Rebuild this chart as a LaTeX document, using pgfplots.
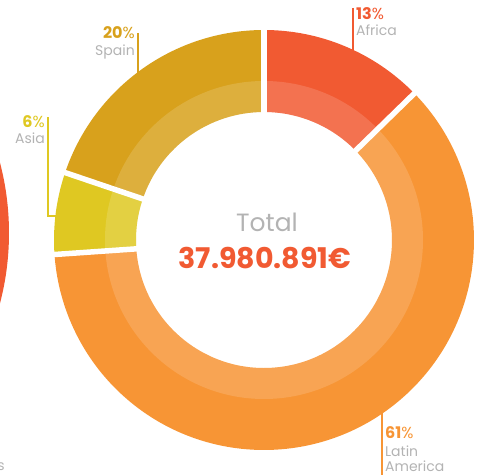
\documentclass[border=0pt]{standalone}
\usepackage{pgfplots}
\pgfplotsset{compat=1.18}
\usepackage{pgfplotstable}
\usepackage{fontspec}
\setmainfont{Poppins}
\definecolor{cafr}{HTML}{F15A32}
\definecolor{clat}{HTML}{F79535}
\definecolor{casi}{HTML}{DFC822}
\definecolor{cspa}{HTML}{D8A11C}
\definecolor{lbl}{HTML}{B3B3B3}

% shares of the total, clockwise from 12 o'clock
\pgfplotstableread{
name value col
Africa 12.7 cafr
LatinAmerica 61.2 clat
Asia 6.3 casi
Spain 19.8 cspa
}\shares

\begin{document}
\begin{tikzpicture}
\useasboundingbox (0,0) rectangle (477pt,475pt);
\begin{axis}[hide axis, x=1pt, y=1pt, xmin=0, xmax=477, ymin=0, ymax=475,
  scale only axis, clip=false]
\pgfplotsextra{
  \coordinate (c) at (axis cs:264,235);
  % edge of the neighbouring chart
  \fill[cafr] (axis cs:-268,242) circle[radius=277pt];
  % segments
  \gdef\angnow{90}
  \pgfplotstableforeachcolumnelement{value}\of\shares\as\v{%
    \pgfplotstablegetelem{\pgfplotstablerow}{col}\of\shares
    \let\segcol\pgfplotsretval
    \pgfmathsetmacro\angend{\angnow-3.6*\v}
    \fill[\segcol] (c) ++(\angnow:210pt) arc[start angle=\angnow, end angle=\angend, radius=210pt]
      -- ++(\angend:-82pt) arc[start angle=\angend, end angle=\angnow, radius=128pt] -- cycle;
    \xdef\angnow{\angend}
  }
  % lighter inner band
  \fill[white, opacity=0.15, even odd rule] (c) circle[radius=159pt] (c) circle[radius=128pt];
  % white gaps
  \gdef\angnow{90}
  \pgfplotstableforeachcolumnelement{value}\of\shares\as\v{%
    \draw[white, line width=5.5pt] (c) ++(\angnow:118pt) -- ++(\angnow:100pt);
    \pgfmathsetmacro\angend{\angnow-3.6*\v}
    \xdef\angnow{\angend}
  }
}
% leader lines
\draw[cafr, line width=1.3pt] (axis cs:353,467) -- (axis cs:353,425);
\draw[cspa, line width=1.3pt] (axis cs:138,442) -- (axis cs:138,402);
\draw[casi, line width=1.3pt] (axis cs:48,358) -- (axis cs:48,259) -- (axis cs:57,259);
\draw[clat, line width=1.3pt] (axis cs:382,62) -- (axis cs:382,0);
% labels
\begin{scope}[every node/.style={inner sep=0pt, font=\fontsize{14}{15}\selectfont}]
\node[anchor=base west, text=cafr, font=\fontsize{16}{17}\selectfont] at (axis cs:356,455) {\bfseries 13\mdseries\%};
\node[anchor=base west, text=lbl] at (axis cs:356,439) {Africa};
\node[anchor=base east, text=cspa, font=\fontsize{16}{17}\selectfont] at (axis cs:135,436) {\bfseries 20\mdseries\%};
\node[anchor=base east, text=lbl] at (axis cs:135,420) {Spain};
\node[anchor=base east, text=casi, font=\fontsize{16}{17}\selectfont] at (axis cs:45,348) {\bfseries 6\mdseries\%};
\node[anchor=base east, text=lbl] at (axis cs:45,332) {Asia};
\node[anchor=base west, text=clat, font=\fontsize{16}{17}\selectfont] at (axis cs:385,37) {\bfseries 61\mdseries\%};
\node[anchor=base west, text=lbl] at (axis cs:385,19) {Latin};
\node[anchor=base west, text=lbl] at (axis cs:385,4) {America};
\node[anchor=base east, text=lbl] at (axis cs:5,5) {s};
\end{scope}
\node[anchor=base, inner sep=0pt, text=lbl, font=\fontsize{25}{27}\selectfont] at (axis cs:267,244) {Total};
\node[anchor=base, inner sep=0pt, text=cafr, font=\fontsize{28.5}{30}\selectfont\bfseries] at (axis cs:265,207) {37.980.891€};
\end{axis}
\end{tikzpicture}
\end{document}
